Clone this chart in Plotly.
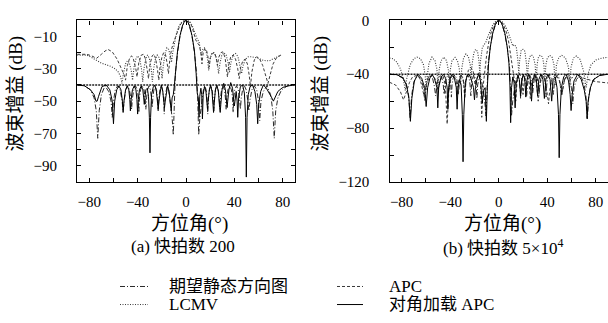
import plotly.graph_objects as go

FONT = "Liberation Serif, Noto Sans CJK SC, serif"

# ---------------- axis ticks ----------------
x_tick_vals = [-80, -40, 0, 40, 80]
x_tick_text = ["−80", "−40", "0", "40", "80"]
x_minor_vals = [-60, -20, 20, 60]
ya_tick_vals = [-90, -70, -50, -30, -10]
ya_tick_text = ["−90", "−70", "−50", "−30", "−10"]
ya_minor_vals = [-100, -80, -60, -40, -20, 0]
yb_tick_vals = [-120, -80, -40, 0]
yb_tick_text = ["−120", "−80", "−40", "0"]
yb_minor_vals = [-100, -60, -20]

# ---------------- panel (a): 200 snapshots ----------------
a_quiescent = [(-90,-40),(-84,-40.5),(-79,-43),(-76,-48),(-74.2,-56),(-73,-73),(-71.8,-56),(-70,-46),(-67,-40.5),
    (-64,-44),(-62,-50),(-61,-60),(-60,-50),(-58.5,-43),(-56.5,-40.5),(-54.5,-43),(-53,-49),(-52,-56),(-51,-49),
    (-49.8,-43),(-48.3,-40.5),(-46.8,-43),(-45.7,-48),(-45,-55),(-44.3,-48),(-43.2,-43),(-41.8,-40.5),(-40.3,-43),
    (-39.5,-48),(-39,-57),(-38.5,-48),(-37.6,-43),(-36.2,-40.5),(-34.7,-43),(-33.8,-48),(-33.2,-55),(-32.6,-48),
    (-31.8,-43),(-30.6,-40.5),(-29.4,-43),(-28.6,-48),(-28,-54),(-27.4,-48),(-26.6,-43),(-25.5,-40.5),(-24.4,-43),
    (-23.6,-48),(-23,-56),(-22.4,-48),(-21.6,-43),(-20.5,-40.5),(-19.4,-43),(-18.6,-48),(-18,-58),(-17.4,-48),
    (-16.6,-43),(-15.6,-40.5),(-14.4,-43),(-13.2,-50),(-11.5,-60),(-10.5,-71),(-9.8,-52),(-8.8,-33),(-7,-20),
    (-5,-10),(-3,-4),(-1.5,-1),(0,0),(1.5,-1),(3,-4),(5,-10),(7,-20),(8.8,-33),(9.8,-52),(10.5,-71),(11.5,-60),
    (13.2,-50),(14.4,-43),(15.6,-40.5),(16.6,-43),(17.4,-48),(18,-58),(18.6,-48),(19.4,-43),(20.5,-40.5),
    (21.6,-43),(22.4,-48),(23,-56),(23.6,-48),(24.4,-43),(25.5,-40.5),(26.6,-43),(27.4,-48),(28,-54),(28.6,-48),
    (29.4,-43),(30.6,-40.5),(31.8,-43),(32.6,-48),(33.2,-55),(33.8,-48),(34.7,-43),(36.2,-40.5),(37.6,-43),
    (38.5,-48),(39,-57),(39.5,-48),(40.3,-43),(41.8,-40.5),(43.2,-43),(44.3,-48),(45,-55),(45.7,-48),(46.8,-43),
    (48.3,-40.5),(49.8,-43),(51,-49),(52,-56),(53,-49),(54.5,-43),(56.5,-40.5),(58.5,-43),(60,-50),(61,-62),
    (62,-50),(64,-44),(67,-40.5),(70,-46),(71.8,-56),(73,-73),(74.2,-56),(76,-48),(79,-43),(84,-40.5),(90,-40)]

a_apc = [(-90,-21),(-82,-21),(-78,-22),(-74,-23.5),(-70,-21),(-67,-19),(-64.5,-18),(-61,-19.5),(-57,-24),
    (-53,-30),(-51,-34),(-50,-37),(-48.5,-28),(-46.5,-23),(-45,-22),(-43.5,-24),(-41.5,-30),(-40.5,-35),(-39,-26),
    (-37,-21.5),(-35,-21),(-33.5,-24),(-32,-30),(-31,-36),(-30,-28),(-28,-22),(-26.5,-21),(-25,-24),(-23.5,-31),
    (-22.5,-37),(-21.5,-29),(-20,-23),(-18.5,-20),(-17,-21),(-15.5,-27),(-14.5,-33),(-13.5,-25),(-12,-18),
    (-10.5,-14),(-9,-11),(-7,-7),(-5,-3),(-3,-1),(-1.5,-0.2),(0,0),(1.5,-0.3),(3,-1.2),(5,-4),(6.5,-8),(8,-12),
    (9.5,-14),(11,-15.5),(12.3,-20),(13.2,-27),(14.2,-20),(15.5,-17.5),(17,-18.5),(18.3,-23),(19.2,-29),
    (20.2,-23),(21.8,-20.5),(23.5,-20),(25,-23),(26,-28),(27,-23),(28.8,-20),(30.5,-19.5),(32.3,-23),(33.5,-30),
    (34.3,-35),(35.3,-28),(37,-22.5),(39,-21.5),(41,-24),(42.8,-30),(44,-36),(45.3,-29),(47,-25),(49,-24),
    (50.8,-27),(52.3,-34),(53.3,-41),(54.5,-32),(56.5,-24.5),(58.5,-22.5),(61,-24),(63.5,-28),(66,-34),
    (67.8,-39),(69.5,-34),(72,-27),(75,-23),(78.5,-21.5)]

a_lcmv = [(-90,-21.5),(-82,-21.5),(-78,-23),(-74,-25),(-70,-26.5),(-66,-27.5),(-62,-28.5),(-58.5,-30),(-56,-32),
    (-54,-35),(-53,-39),(-51.8,-33),(-50,-27),(-48.5,-25),(-47,-26),(-45.3,-31),(-44.2,-37),(-43,-29),
    (-41.3,-23.5),(-39.8,-22),(-38.3,-24),(-36.8,-30),(-35.8,-38),(-34.8,-30),(-33.2,-23.5),(-31.8,-21.5),
    (-30.3,-23.5),(-28.8,-30),(-27.8,-38),(-26.8,-30),(-25.3,-24),(-23.8,-21.5),(-22.3,-23),(-20.8,-28),
    (-19.8,-36),(-18.8,-28),(-17.3,-20.5),(-15.8,-17),(-14.3,-18),(-13,-22),(-12,-26),(-11,-20),(-9.5,-14),
    (-8,-8.5),(-6,-4),(-4,-1.5),(-2,-0.3),(0,0),(2,-0.3),(4,-1.5),(5.5,-4),(7,-7.5),(8.3,-10.5),(9.5,-12),
    (10.7,-13),(11.8,-17),(12.8,-22),(13.8,-18),(15.2,-17),(16.6,-19),(17.8,-24),(18.8,-31),(19.8,-24),
    (21.3,-20.5),(23,-20),(24.6,-22),(26,-27),(27,-33),(28,-27),(29.6,-21.5),(31.4,-20),(33.2,-21.5),(34.8,-26),
    (36,-32),(37.2,-26),(39,-21.5),(41,-20.5),(43,-22.5),(44.8,-28),(46,-33),(47.2,-28),(49.2,-24),(51.5,-22.5),
    (54,-22.5),(57,-23),(60,-23.5),(63,-24.5),(66,-25),(69,-25),(72,-24),(75,-22.5),(78.5,-21.5)]

a_dl_apc = [(-90,-40),(-84,-40.5),(-79,-43),(-76,-46),(-74.5,-50),(-73.5,-50),(-72.3,-47),(-69.5,-41),(-66,-40),
    (-63,-43),(-61,-50),(-60,-64),(-59,-50),(-57.3,-43),(-55.5,-40.5),(-53.8,-43),(-52.6,-50),(-52,-57),(-51.3,-50),
    (-50,-43),(-48.6,-40.5),(-47.3,-43),(-46.5,-49),(-46,-56),(-45.4,-49),(-44.3,-43),(-42.8,-40.5),(-41.4,-43),
    (-40.6,-49),(-40,-58),(-39.4,-49),(-38.5,-43),(-37,-40.5),(-35.7,-43),(-35,-48),(-34.5,-52),(-34,-48),
    (-33.2,-43),(-32,-42),(-31,-47),(-30.3,-60),(-29.8,-82),(-29.3,-60),(-28.5,-46),(-27,-41),(-25.8,-40),
    (-24.5,-44),(-23.6,-50),(-23,-55),(-22.4,-50),(-21.5,-44),(-20.4,-40),(-19.2,-44),(-18.4,-50),(-17.8,-54),
    (-17.2,-50),(-16.3,-44),(-15.2,-40.5),(-14,-44),(-12.8,-50),(-12.2,-56),(-11.5,-48),(-10.5,-46),(-9.6,-40),
    (-8.5,-30),(-7,-19),(-5,-9.5),(-3,-3.5),(-1.5,-0.9),(0,0),(1.5,-0.9),(3,-3.5),(5,-9.5),(7,-19),(8.4,-33),
    (9.3,-45),(10.2,-48),(10.8,-60),(11.4,-47),(12.3,-42),(13,-46),(13.6,-61),(14.2,-46),(15.3,-41),(16.5,-44),
    (17.3,-50),(17.8,-55),(18.3,-50),(19.3,-43),(20.4,-40),(21.5,-44),(22.3,-52),(22.8,-57),(23.3,-52),
    (24.3,-43),(25.5,-40),(26.8,-44),(27.8,-54),(28.3,-57),(28.8,-52),(29.8,-43),(31.2,-39),(32.6,-43),
    (33.5,-50),(34,-54),(34.5,-50),(35.5,-43),(37,-38.5),(38.5,-42),(39.5,-50),(40,-53),(40.5,-50),(41.5,-44),
    (42.3,-50),(42.8,-60),(43.5,-48),(45,-41),(46.8,-40),(48.3,-45),(49.3,-60),(49.9,-97),(50.5,-60),(51.5,-46),
    (53,-41),(55,-40),(57,-44),(58.5,-52),(59.3,-64),(60.1,-52),(61.8,-44),(64,-40),(66.5,-42),(69,-45),
    (71,-48),(72.3,-50),(73.5,-48),(76,-44),(80,-41.5),(85,-40.5),(90,-40)]

# ---------------- panel (b): 5x10^4 snapshots ----------------
b_quiescent = a_quiescent

b_apc = [(-90,-46),(-85,-48),(-81,-53),(-78.5,-59),(-76,-53),(-73.5,-46),(-71,-42),(-68,-41),(-65,-43),(-63,-50),
    (-61.5,-56),(-60,-48),(-57,-42),(-54.5,-41),(-52,-44),(-50,-52),(-48.5,-45),(-46,-41),(-44,-48),(-42.5,-77),
    (-41,-50),(-39,-42),(-37,-41),(-35,-45),(-34,-55),(-33,-45),(-31,-40),(-29,-46),(-28,-58),(-27,-45),(-25,-37),
    (-23,-35),(-21,-38),(-19.5,-48),(-18.5,-45),(-16.5,-39),(-15,-45),(-14,-72),(-13,-50),(-11.5,-38),(-10,-26),
    (-8,-15),(-6,-8),(-4,-3.5),(-2,-0.8),(0,0),(2,-0.8),(4,-3.5),(6,-8),(8,-15),(10,-26),(11.5,-36),(13,-45),
    (14,-60),(15,-46),(17,-39),(19,-44),(20,-55),(21,-45),(23,-40),(25,-46),(26,-58),(27,-46),(29,-41),(31,-46),
    (32.5,-60),(34,-47),(36,-41),(38,-44),(40,-55),(41,-62),(42,-52),(44,-43),(47,-40),(50,-45),(52,-55),(54,-45),
    (57,-40),(60,-43),(63,-40),(66,-41),(70,-43),(75,-44.5),(80,-45.5),(85,-46),(90,-46.5)]

b_lcmv = [(-90,-28),(-87,-28.5),(-84,-31),(-81,-36),(-78.5,-44),(-77,-52),(-76,-44),(-73,-33),(-70,-28.5),
    (-67.3,-27.3),(-64.5,-28.5),(-62,-33),(-60.5,-42),(-59.8,-52),(-59,-42),(-57.5,-32),(-55,-27.3),(-52.5,-30),
    (-51,-36),(-50,-50),(-49,-36),(-47.5,-30),(-45.2,-27.3),(-43,-30),(-41.5,-37),(-40.7,-52),(-40,-37),
    (-38.5,-30),(-36,-27.5),(-34,-30),(-32.5,-36),(-31.5,-48),(-30.5,-36),(-29,-28),(-27,-25),(-25,-27),
    (-23.5,-33),(-22.8,-44),(-22,-33),(-20.5,-24),(-19,-21.5),(-17.5,-23),(-16.3,-30),(-15.6,-40),(-15,-30),
    (-13.5,-20),(-12,-18),(-10.5,-16),(-9,-12),(-7,-7),(-5,-3.5),(-3,-1.2),(-1.5,-0.3),(0,0),(1.5,-0.3),(3,-1.2),
    (5,-3.5),(7,-7),(9,-12),(10.5,-17),(11.5,-19),(13,-18),(14.5,-20),(15.8,-30),(16.5,-40),(17.2,-30),
    (18.5,-22),(20,-21.5),(21.5,-23),(22.8,-32),(23.6,-44),(24.4,-32),(25.5,-27),(27,-25.7),(28.5,-27),(30,-33),
    (30.8,-46),(31.6,-33),(32.5,-28),(34,-26),(36,-27),(37.2,-33),(38,-46),(38.8,-33),(40,-28),(42,-26),
    (44,-27.5),(45.5,-33),(46.5,-48),(47.5,-33),(49.5,-27.5),(52,-26),(55,-28),(57.5,-35),(58.5,-50),(59.5,-35),
    (61.5,-28),(64,-26.5),(67,-29),(70,-38),(72,-50),(73.5,-40),(76,-33),(80,-29.5),(85,-28),(90,-27.5)]

b_dl_apc = [(-90,-40),(-84,-40.3),(-79,-42.5),(-76,-48),(-74,-58),(-72.8,-75),(-71.6,-58),(-69.5,-45),(-66.5,-40),
    (-63.5,-43),(-61,-50),(-59.8,-64),(-58.6,-50),(-56.8,-43),(-55,-40),(-53,-43),(-50.9,-50),(-50.2,-65),
    (-49.5,-50),(-47.5,-42),(-45.5,-40),(-43.8,-43),(-42.5,-50),(-41.9,-66),(-41.3,-50),(-40,-43),(-38.3,-40),
    (-36.5,-43),(-35,-50),(-34.3,-66),(-33.6,-50),(-32.3,-44),(-31,-48),(-30,-70),(-29.4,-105),(-28.8,-70),
    (-27.5,-46),(-26,-41),(-24.5,-40),(-23,-43),(-20.8,-50),(-20,-59),(-19.2,-50),(-17.8,-43),(-16.5,-40),
    (-15,-45),(-13.6,-61.5),(-12.5,-52),(-11.2,-50),(-10.2,-75),(-9.4,-50),(-8.4,-32),(-7,-20),(-5,-9.5),
    (-3,-3.5),(-1.5,-0.9),(0,0),(1.5,-0.9),(3,-3.5),(5,-9.5),(7,-20),(8.4,-32),(9.2,-48),(9.8,-76),(10.5,-50),
    (11.6,-42),(12.6,-46),(13.5,-65),(14.4,-47),(15.8,-41),(17,-44),(18,-56),(18.9,-45),(20.2,-40),(21.5,-44),
    (22.3,-57),(23.1,-45),(24.6,-40),(26,-44),(27,-60),(28,-45),(29.6,-40),(31,-44),(32,-56),(33,-44),(34.8,-40),
    (36.4,-44),(37.6,-58),(38.8,-44),(40.5,-40),(42.3,-44),(43.6,-60),(44.8,-44),(46.5,-42),(48,-50),(49.2,-70),
    (49.8,-102),(50.4,-70),(51.6,-50),(53.5,-42),(55.5,-40),(57.5,-45),(58.8,-55),(59.6,-67),(60.5,-55),(62,-45),
    (65,-40),(68,-44),(70.5,-52),(72,-60),(72.8,-73),(73.6,-60),(75.5,-50),(78,-44),(83,-41),(90,-40)]

# -40 dB sidelobe reference level
ref_angles = [-90, 90]
ref_level = [-40, -40]

names = ["期望静态方向图", "APC", "LCMV", "对角加载 APC"]
dash_q = "5px,2px,1px,2px"
dash_apc = "3px,2px"
dash_lcmv = "1px,1.5px"
col_q = "#2a2a2a"
col_apc = "#3a3a3a"
col_lcmv = "#3a3a3a"

fig = go.Figure()

def add(pairs, name, dash, color, width, xa, ya):
    xs = [p[0] for p in pairs]
    ys = [p[1] for p in pairs]
    fig.add_trace(go.Scatter(x=xs, y=ys, mode="lines", name=name, showlegend=False,
                             line=dict(color=color, width=width, dash=dash),
                             xaxis=xa, yaxis=ya, hoverinfo="skip"))

for (q, apc, lcmv, dl, xa, ya) in [(a_quiescent, a_apc, a_lcmv, a_dl_apc, "x", "y"),
                                   (b_quiescent, b_apc, b_lcmv, b_dl_apc, "x2", "y2")]:
    add(apc, names[1], dash_apc, col_apc, 1, xa, ya)
    add(lcmv, names[2], dash_lcmv, col_lcmv, 1.1, xa, ya)
    add(q, names[0], dash_q, col_q, 1, xa, ya)
    fig.add_trace(go.Scatter(x=ref_angles, y=ref_level, mode="lines", showlegend=False,
                             line=dict(color="#202020", width=1.6, dash="2px,1px"),
                             xaxis=xa, yaxis=ya, hoverinfo="skip"))
    add(dl, names[3], "solid", "black", 1, xa, ya)

W, H = 608, 323
def px(x): return x / W
def py(y): return 1 - y / H

tickfont = dict(family="Liberation Serif", size=15, color="black")
common = dict(showline=True, linecolor="black", linewidth=1.3, ticks="inside", ticklen=4,
              tickcolor="black", tickwidth=1, showgrid=False, zeroline=False, tickfont=tickfont,
              tickmode="array")
def minor(vals):
    return dict(tickvals=vals, ticks="inside", ticklen=4, tickcolor="black", tickwidth=1, showgrid=False)

fig.update_layout(
    width=W, height=H, margin=dict(l=0, r=0, t=0, b=0),
    paper_bgcolor="white", plot_bgcolor="white", showlegend=False,
    xaxis=dict(domain=[px(77.2), px(294.8)], range=[-90, 90], anchor="y", mirror="ticks",
               tickvals=x_tick_vals, ticktext=x_tick_text, minor=minor(x_minor_vals),
               ticklabelstandoff=6, **common),
    yaxis=dict(domain=[py(183), py(13)], range=[-100, 0], anchor="x", mirror="ticks",
               tickvals=ya_tick_vals, ticktext=ya_tick_text, minor=minor(ya_minor_vals),
               ticklabelstandoff=16, **common),
    xaxis2=dict(domain=[px(389.5), 1.0], range=[-90, 90], anchor="y2", mirror="ticks",
                tickvals=x_tick_vals, ticktext=x_tick_text, minor=minor(x_minor_vals),
                ticklabelstandoff=6, **common),
    yaxis2=dict(domain=[py(183), py(13)], range=[-120, 0], anchor="x2", mirror=False,
                tickvals=yb_tick_vals, ticktext=yb_tick_text, minor=minor(yb_minor_vals),
                ticklabelstandoff=16, **common),
)

ann = []
def text(x, y, s, size, anchor="center", angle=0):
    ann.append(dict(x=px(x), y=py(y), xref="paper", yref="paper", text=s, showarrow=False,
                    xanchor=anchor, yanchor="middle", textangle=angle,
                    font=dict(family=FONT, size=size, color="black")))

text(16, 90, "波束增益 (dB)", 19, angle=-90)
text(321, 90, "波束增益 (dB)", 19, angle=-90)
text(189, 227, "方位角(°)", 19)
text(502, 227, "方位角(°)", 19)
text(183, 251, "(a) 快拍数 200", 17)
text(503, 251, "(b) 快拍数 5×10<sup>4</sup>", 17)

# legend
leg_rows = [293, 312]
leg_cols = [(120, 148, 167), (337, 363, 387)]
leg_items = [(names[0], dash_q, col_q), (names[1], dash_apc, col_apc),
             (names[2], dash_lcmv, col_lcmv), (names[3], "solid", "black")]
shapes = []
for i, (nm, dsh, col) in enumerate(leg_items):
    r, c = divmod(i, 2)
    x0, x1, xt = leg_cols[c]
    yy = leg_rows[r]
    shapes.append(dict(type="line", xref="paper", yref="paper", x0=px(x0), x1=px(x1), y0=py(yy), y1=py(yy),
                       line=dict(color=col, width=1, dash=dsh)))
    text(xt, yy, nm, 17, anchor="left")

fig.update_layout(annotations=ann, shapes=shapes)
fig.write_html("out.html")
